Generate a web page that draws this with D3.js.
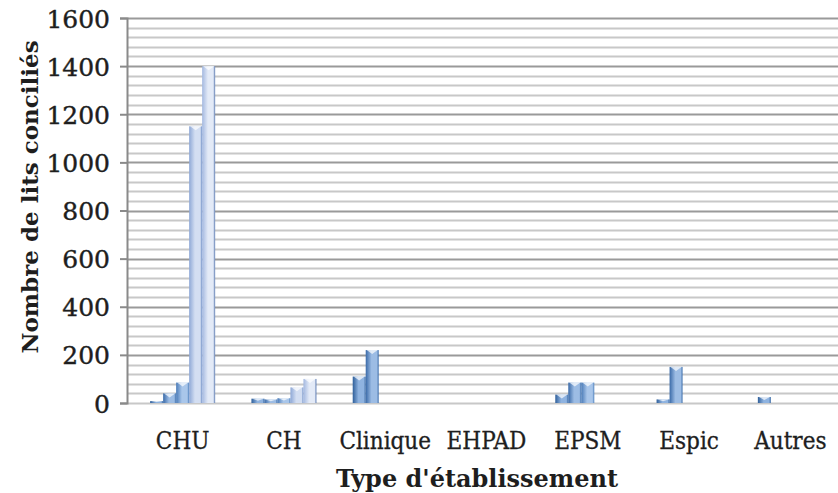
<!DOCTYPE html>
<html><head><meta charset="utf-8">
<script src="https://cdn.jsdelivr.net/npm/d3@7"></script>
<style>
html,body{margin:0;padding:0;background:#fff;}
svg{display:block;}
</style></head>
<body>
<svg id="chart" width="838" height="493"></svg>
<script>
const categories = ["CHU", "CH", "Clinique", "EHPAD", "EPSM", "Espic", "Autres"];
// values of the 1st..5th establishment of each type (sorted ascending)
const series1 = [8, 18, 110, 0, 35, 15, 25];
const series2 = [40, 15, 220, 0, 85, 150, 0];
const series3 = [85, 20, 0, 0, 85, 0, 0];
const series4 = [1150, 65, 0, 0, 0, 0, 0];
const series5 = [1400, 100, 0, 0, 0, 0, 0];
const yTicks = [0, 200, 400, 600, 800, 1000, 1200, 1400, 1600];
const yTitle = "Nombre de lits conciliés";
const xTitle = "Type d'établissement";

(function () {
const allSeries = [series1, series2, series3, series4, series5];
const svg = d3.select("#chart");
const pLeft = 127, pTop = 18, pBottom = 403, pRight = 838;

const y = d3.scaleLinear().domain([0, 1600]).range([pBottom, pTop]);
const x = d3.scaleBand().domain(categories).range([132, 841]).padding(0);
const xs = d3.scaleBand().domain(d3.range(allSeries.length)).range([-32.5, 32.5]).padding(0);

const defs = svg.append("defs");
const palette = [
  ["#2f5f9a", "#8fb3e0", "#3a6aa5"],
  ["#3a6aa8", "#9cbce4", "#3f70ad"],
  ["#4a7bb8", "#a9c6ea", "#4e80bd"],
  ["#8ea8d6", "#d3def2", "#6f8fc6"],
  ["#a3b8e0", "#e3eaf7", "#5a79b0"]
];
palette.forEach((p, i) => {
  const g = defs.append("linearGradient").attr("id", "g" + i)
    .attr("x1", "0%").attr("x2", "100%").attr("y1", "0%").attr("y2", "0%");
  g.append("stop").attr("offset", "0%").attr("stop-color", p[0]);
  g.append("stop").attr("offset", "45%").attr("stop-color", p[1]);
  g.append("stop").attr("offset", "85%").attr("stop-color", p[1]);
  g.append("stop").attr("offset", "100%").attr("stop-color", p[2]);
});

const minor = d3.range(0, 1601, 40).filter(v => v % 200 !== 0);
svg.append("g").selectAll("line").data(minor).join("line")
  .attr("x1", pLeft).attr("x2", pRight)
  .attr("y1", d => Math.round(y(d)) + 0.5).attr("y2", d => Math.round(y(d)) + 0.5)
  .attr("stroke", "#c8c8c8").attr("stroke-width", 2);

svg.append("g").selectAll("line").data(yTicks.filter(d => d > 0)).join("line")
  .attr("x1", pLeft).attr("x2", pRight)
  .attr("y1", d => Math.round(y(d)) + 0.5).attr("y2", d => Math.round(y(d)) + 0.5)
  .attr("stroke", "#9a9a9a").attr("stroke-width", 2);

svg.append("line").attr("x1", pLeft).attr("x2", pRight)
  .attr("y1", pBottom + 0.5).attr("y2", pBottom + 0.5)
  .attr("stroke", "#c8c8c8").attr("stroke-width", 2);

const barData = [];
allSeries.forEach((s, si) => s.forEach((v, ci) => { if (v > 0) barData.push({ si, ci, v }); }));
const bars = svg.append("g");
bars.selectAll("rect").data(barData).join("rect")
  .attr("x", d => x(categories[d.ci]) + x.bandwidth() / 2 + xs(d.si))
  .attr("width", xs.bandwidth())
  .attr("y", d => y(d.v))
  .attr("height", d => pBottom - y(d.v))
  .attr("fill", d => `url(#g${d.si})`);
bars.selectAll("path").data(barData).join("path")
  .attr("d", d => {
    const x0 = x(categories[d.ci]) + x.bandwidth() / 2 + xs(d.si);
    const w = xs.bandwidth(), t = y(d.v);
    const h = Math.min(4, (pBottom - t) / 2);
    return `M${x0 + 1},${t} L${x0 + w / 2},${t + h} L${x0 + w - 1},${t} Z`;
  })
  .attr("fill", "#ffffff").attr("opacity", 0.7);

const yAxis = d3.axisLeft(y).tickValues(yTicks).tickSize(7).tickPadding(10).tickFormat(d3.format("d"));
const ya = svg.append("g").attr("transform", `translate(${pLeft},0)`).call(yAxis);
ya.select(".domain").attr("stroke", "#8a8a8a").attr("stroke-width", 2);
ya.selectAll(".tick line").attr("stroke", "#8a8a8a").attr("stroke-width", 2);
ya.selectAll(".tick text")
  .attr("font-family", "'DejaVu Serif', serif").attr("font-size", 25)
  .attr("fill", "#1e1e1e").attr("stroke", "#1e1e1e").attr("stroke-width", 0.4)
  .attr("dy", "0.36em");

const xAxis = d3.axisBottom(x).tickSize(0).tickPadding(0);
const xa = svg.append("g").attr("transform", `translate(0,${pBottom})`).call(xAxis);
xa.select(".domain").remove();
xa.selectAll(".tick text")
  .attr("y", 46).attr("dy", 0)
  .attr("font-family", "'DejaVu Serif Condensed', 'DejaVu Serif', serif")
  .attr("font-stretch", "condensed")
  .attr("font-size", 24).attr("fill", "#1e1e1e")
  .attr("stroke", "#1e1e1e").attr("stroke-width", 0.3);

svg.append("text").attr("x", 477).attr("y", 487).attr("text-anchor", "middle")
  .attr("font-family", "'DejaVu Serif', serif")
  .attr("font-weight", "bold")
  .attr("font-size", 24).attr("fill", "#1e1e1e").text(xTitle);

svg.append("text").attr("transform", "translate(38,197) rotate(-90)")
  .attr("text-anchor", "middle")
  .attr("font-family", "'DejaVu Serif', serif")
  .attr("font-weight", "bold")
  .attr("font-size", 23).attr("fill", "#1e1e1e").text(yTitle);
})();
</script>
</body></html>
